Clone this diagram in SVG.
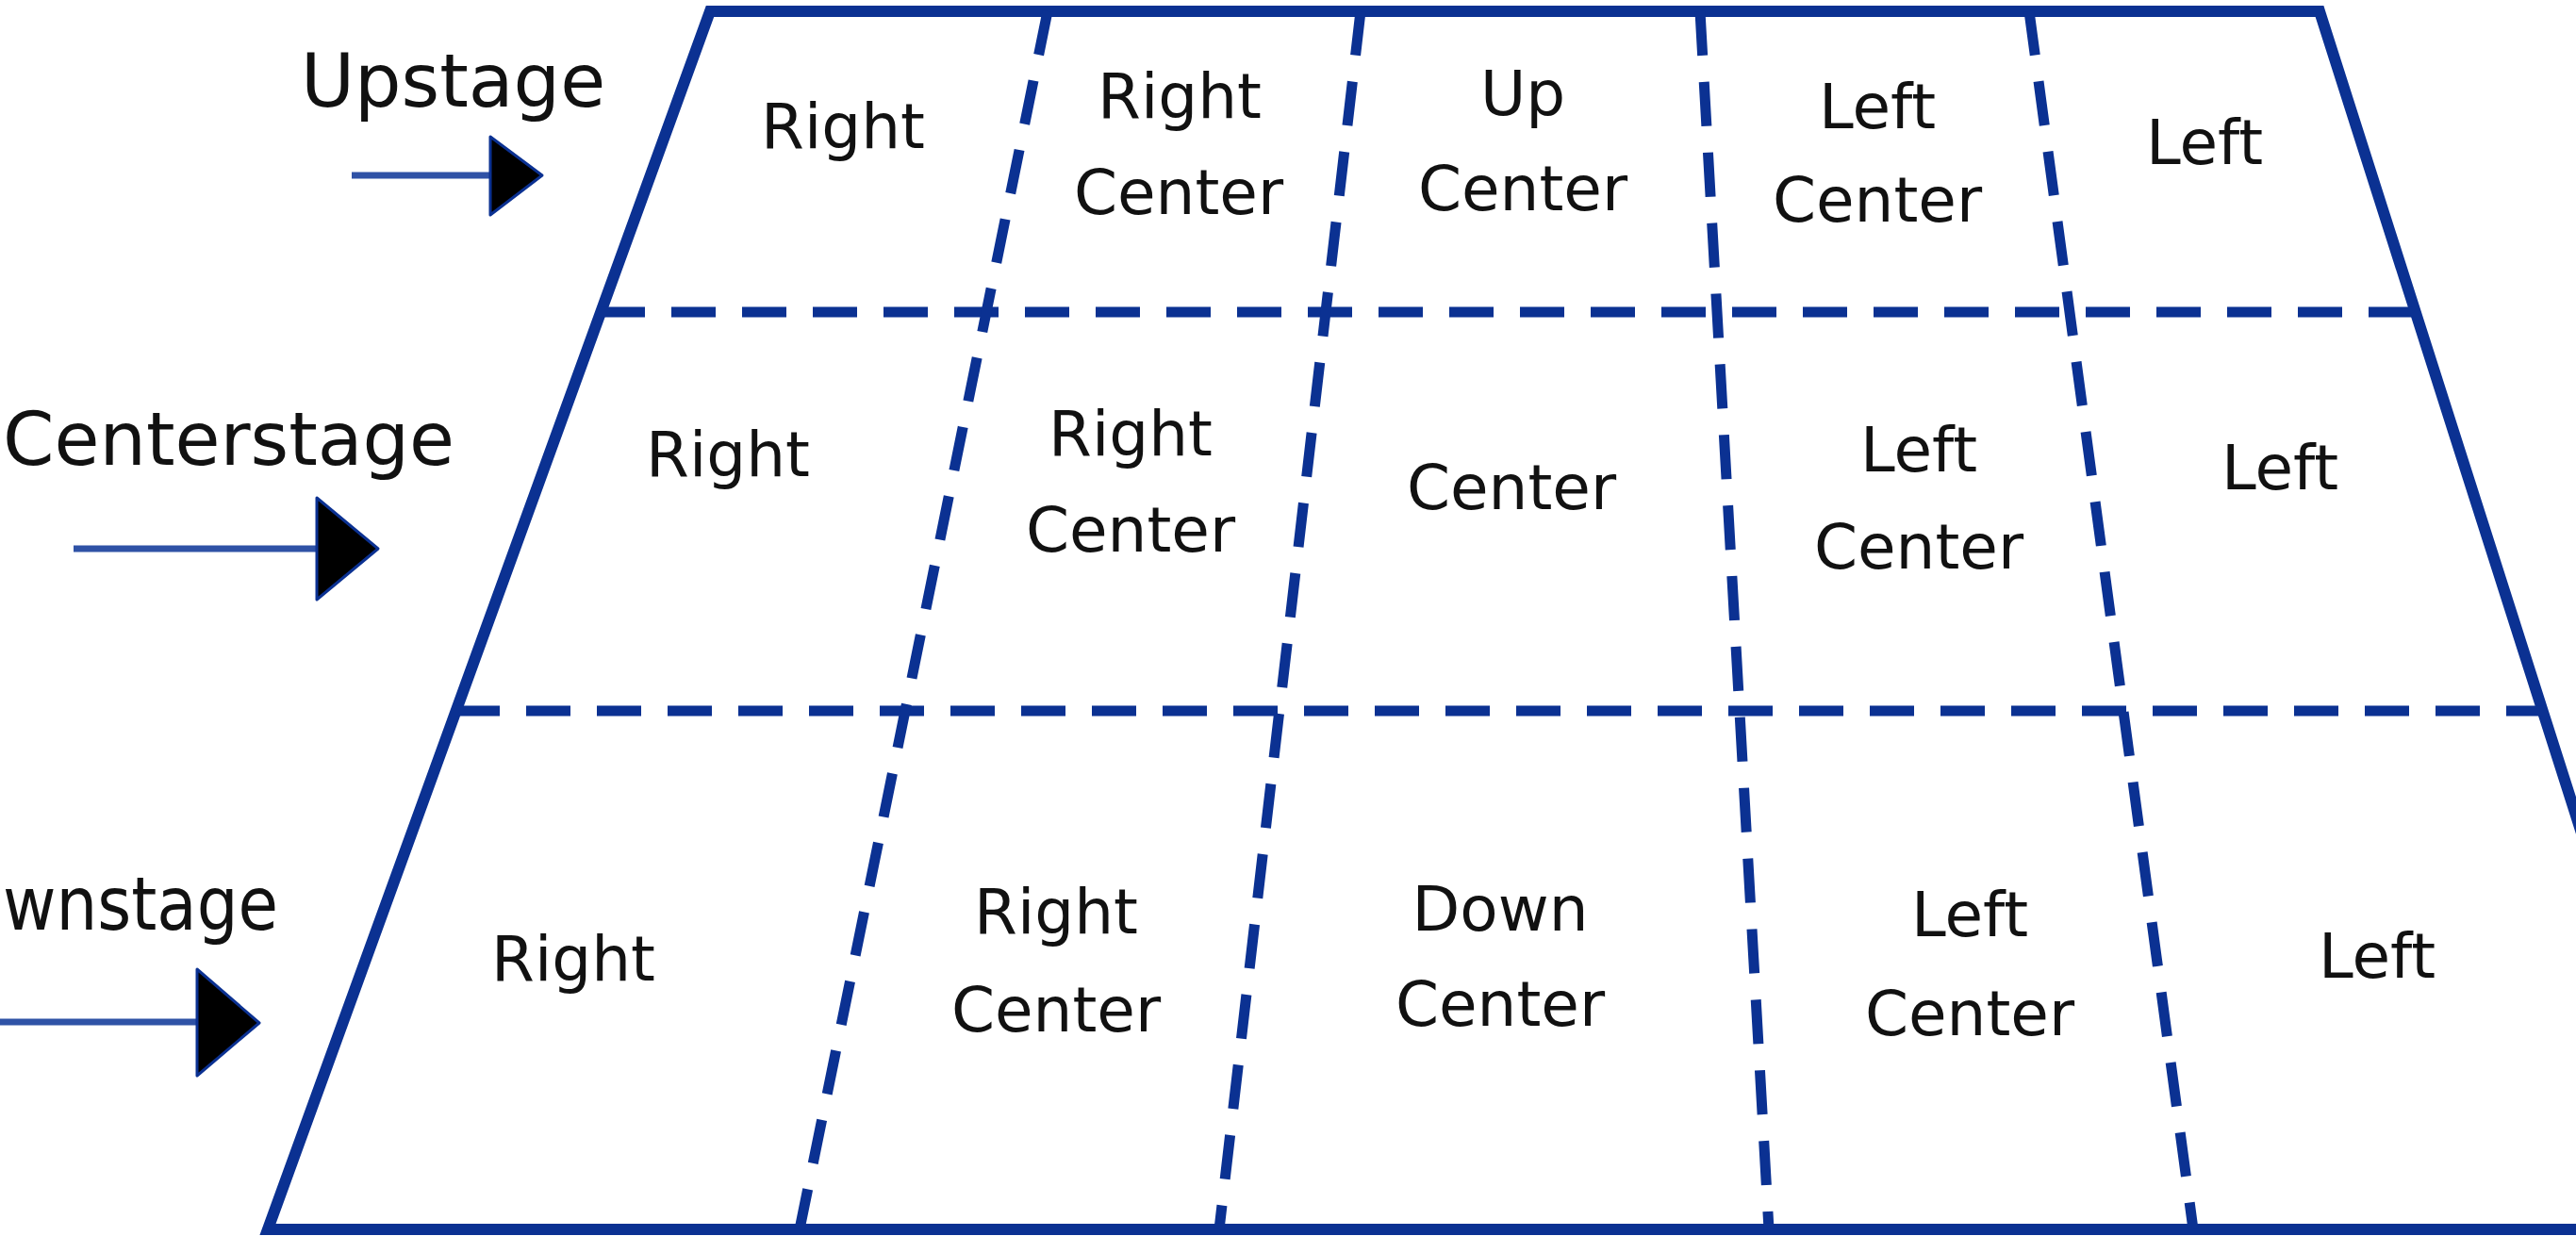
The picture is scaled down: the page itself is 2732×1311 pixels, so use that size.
<svg xmlns="http://www.w3.org/2000/svg" width="2732" height="1311" viewBox="0 0 2732 1311">
<style>
.stage{fill:none;stroke:#0b3192;stroke-width:12;stroke-linejoin:miter}
.dash{stroke:#0b3192;stroke-width:11;stroke-dasharray:47 28;fill:none}
.lbl{font-family:"DejaVu Sans",sans-serif;font-size:78px;fill:#111}
.cell{font-family:"DejaVu Sans",sans-serif;font-size:66px;fill:#111;text-anchor:middle}
.arrline{stroke:#2f52a6;stroke-width:7}
.arrhead{fill:#000;stroke:#0b3192;stroke-width:3;stroke-linejoin:round}
</style>
<rect width="2732" height="1311" fill="#fff"/>
<g id="stage">
<path class="stage" d="M753 12 L2460 12 L2872 1304 L284 1304 Z"/>
</g>
<g id="connectors">
<line class="dash" x1="637" y1="331" x2="2562" y2="331"/>
<line class="dash" x1="483" y1="754" x2="2697" y2="754"/>
<line class="dash" x1="1111" y1="12" x2="848" y2="1304"/>
<line class="dash" x1="1443" y1="12" x2="1293" y2="1304"/>
<line class="dash" x1="1803" y1="12" x2="1876" y2="1304"/>
<line class="dash" x1="2152" y1="12" x2="2326" y2="1304"/>
<g id="arrow-up">
<line class="arrline" x1="373" y1="186" x2="522" y2="186"/>
<path class="arrhead" d="M520 145 L575 186 L520 228 Z"/>
</g>
<g id="arrow-center">
<line class="arrline" x1="78" y1="582" x2="338" y2="582"/>
<path class="arrhead" d="M336 528 L401 582 L336 636 Z"/>
</g>
<g id="arrow-down">
<line class="arrline" x1="-5" y1="1084" x2="211" y2="1084"/>
<path class="arrhead" d="M209 1028 L275 1085 L209 1141 Z"/>
</g>
</g>
<g id="label-upstage"><text class="lbl" x="319" y="113">Upstage</text></g>
<g id="label-centerstage"><text class="lbl" x="3" y="493">Centerstage</text></g>
<g id="label-downstage"><text class="lbl" x="3" y="986" textLength="292" lengthAdjust="spacingAndGlyphs">wnstage</text></g>
<g id="up-right"><text class="cell" x="894" y="157">Right</text></g>
<g id="up-right-center"><text class="cell" x="1251" y="125">Right</text><text class="cell" x="1250" y="227">Center</text></g>
<g id="up-center"><text class="cell" x="1615" y="122">Up</text><text class="cell" x="1615" y="223">Center</text></g>
<g id="up-left-center"><text class="cell" x="1991" y="136">Left</text><text class="cell" x="1991" y="235">Center</text></g>
<g id="up-left"><text class="cell" x="2338" y="174">Left</text></g>
<g id="center-right"><text class="cell" x="772" y="505">Right</text></g>
<g id="center-right-center"><text class="cell" x="1199" y="483">Right</text><text class="cell" x="1199" y="585">Center</text></g>
<g id="center-center"><text class="cell" x="1603" y="540">Center</text></g>
<g id="center-left-center"><text class="cell" x="2035" y="500">Left</text><text class="cell" x="2035" y="603">Center</text></g>
<g id="center-left"><text class="cell" x="2418" y="519">Left</text></g>
<g id="down-right"><text class="cell" x="608" y="1040">Right</text></g>
<g id="down-right-center"><text class="cell" x="1120" y="990">Right</text><text class="cell" x="1120" y="1094">Center</text></g>
<g id="down-center"><text class="cell" x="1591" y="987">Down</text><text class="cell" x="1591" y="1088">Center</text></g>
<g id="down-left-center"><text class="cell" x="2089" y="993">Left</text><text class="cell" x="2089" y="1098">Center</text></g>
<g id="down-left"><text class="cell" x="2521" y="1037">Left</text></g>
</svg>
